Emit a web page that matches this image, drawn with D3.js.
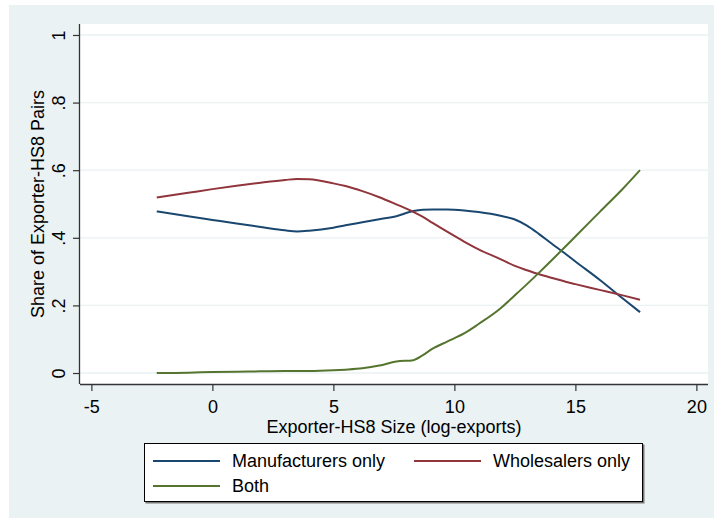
<!DOCTYPE html>
<html><head><meta charset="utf-8">
<script src="https://cdn.jsdelivr.net/npm/d3@7"></script>
<style>body{margin:0;background:#fff}svg{display:block;font-family:"Liberation Sans",Arial,sans-serif}</style>
</head><body><svg id="c" width="714" height="523"></svg>
<script>
const xs = [-2.3,-1,0,1,2,3,3.5,4,5,5.5,6.2,6.9,7.6,8.3,8.7,9.1,9.7,10.4,11,11.9,12.5,13,13.5,14,14.6,15,16,17,17.67];
const manufacturers = [.478,.464,.453,.442,.432,.422,.419,.421,.430,.437,.446,.455,.464,.479,.483,.484,.484,.481,.476,.465,.454,.436,.411,.384,.352,.330,.276,.218,.180];
const wholesalers = [.519,.533,.544,.554,.563,.571,.574,.573,.561,.553,.538,.520,.499,.477,.462,.444,.418,.389,.366,.337,.317,.304,.292,.282,.270,.263,.246,.229,.217];
const both = [.000,.001,.003,.004,.005,.006,.006,.006,.008,.010,.014,.022,.034,.038,.053,.072,.093,.117,.145,.191,.230,.263,.297,.332,.375,.404,.476,.548,.600];
const xTicks = [-5,0,5,10,15,20];
const xTickLabels = ["-5","0","5","10","15","20"];
const yTicks = [0,.2,.4,.6,.8,1];
const yTickLabels = ["0",".2",".4",".6",".8","1"];
const seriesNames = ["Manufacturers only","Wholesalers only","Both"];
const seriesColors = ["#1A476F","#90353B","#55752F"];
const xTitle = "Exporter-HS8 Size (log-exports)";
const yTitle = "Share of Exporter-HS8 Pairs";

const svg = d3.select("#c");
svg.append("rect").attr("x",9).attr("y",5).attr("width",705).attr("height",513).attr("fill","#EAF2F3");
const L=80,R=708,T=24,B=384;
const x = d3.scaleLinear().domain([-5.47,20.48]).range([L,R]);
const y = d3.scaleLinear().domain([-0.0325,1.0325]).range([B,T]);
svg.append("rect").attr("x",L).attr("y",T).attr("width",R-L).attr("height",B-T).attr("fill","#fff");
// gridlines
svg.append("g").selectAll("line").data(yTicks).join("line")
  .attr("x1",L).attr("x2",R).attr("y1",d=>y(d)).attr("y2",d=>y(d))
  .attr("stroke","#EAF2F3").attr("stroke-width",1.3);
// axes
const fs = 18;
const xa = svg.append("g").attr("transform",`translate(0,${B})`)
  .call(d3.axisBottom(x).tickValues(xTicks).tickFormat((d,i)=>xTickLabels[i]).tickSize(7).tickPadding(4));
const ya = svg.append("g").attr("transform",`translate(${L},0)`)
  .call(d3.axisLeft(y).tickValues(yTicks).tickFormat((d,i)=>yTickLabels[i]).tickSize(7).tickPadding(4));
[xa,ya].forEach(a=>{
  a.select(".domain").attr("stroke","#333").attr("stroke-width",1.3);
  a.selectAll(".tick line").attr("stroke","#333").attr("stroke-width",1.2);
  a.selectAll("text").attr("font-size",fs).attr("fill","#000").attr("font-family","Liberation Sans, Arial, sans-serif");
});
xa.select(".domain").attr("d",`M${L},0.5H${R}`);
ya.select(".domain").attr("d",`M-0.5,${T}V${B}`);
xa.selectAll(".tick text").attr("dy",null).attr("y",29);
ya.selectAll(".tick text").attr("x",null).attr("dy",null)
  .attr("transform","translate(-15,0) rotate(-90)").attr("text-anchor","middle");
// titles
svg.append("text").attr("x",(L+R)/2).attr("y",433).attr("text-anchor","middle").attr("font-size",fs).text(xTitle);
svg.append("text").attr("transform",`translate(44,${(T+B)/2}) rotate(-90)`).attr("text-anchor","middle").attr("font-size",fs).text(yTitle);
// lines
const series=[manufacturers,wholesalers,both];
const line = d3.line().x((d,i)=>x(xs[i])).y(d=>y(d)).curve(d3.curveMonotoneX);
series.forEach((s,k)=>{
  svg.append("path").attr("d",line(s)).attr("fill","none").attr("stroke",seriesColors[k]).attr("stroke-width",2);
});
// legend
svg.append("rect").attr("x",145.5).attr("y",444.5).attr("width",499).attr("height",59).attr("fill","#777");
svg.append("rect").attr("x",144.5).attr("y",443.5).attr("width",498).attr("height",58).attr("fill","#fff").attr("stroke","#000").attr("stroke-width",1);
const lx=[153,414], tx=[232,493], ly=[461,486];
seriesNames.forEach((n,k)=>{
  const c=k%2, r=Math.floor(k/2);
  svg.append("line").attr("x1",lx[c]).attr("x2",lx[c]+67).attr("y1",ly[r]).attr("y2",ly[r]).attr("stroke",seriesColors[k]).attr("stroke-width",2);
  svg.append("text").attr("x",tx[c]).attr("y",ly[r]+6).attr("font-size",fs).text(n);
});
</script></body></html>
